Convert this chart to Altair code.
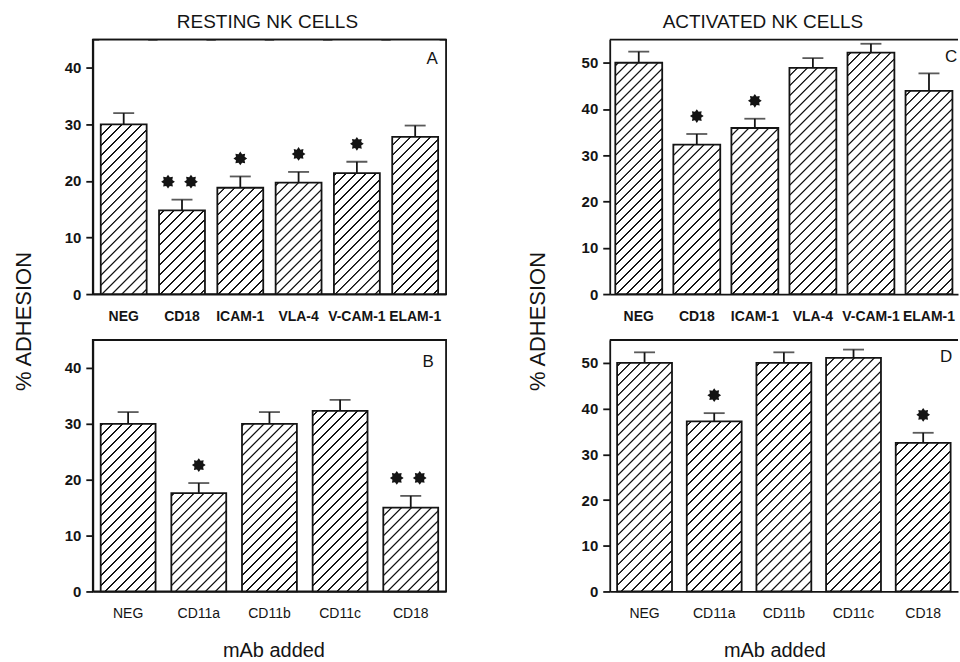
import math
import altair as alt
import pandas as pd

# ---------------- data ----------------
# Panel A : resting NK cells
a_mab = ["NEG", "CD18", "ICAM-1", "VLA-4", "V-CAM-1", "ELAM-1"]
a_mean = [30.0, 14.8, 18.8, 19.7, 21.4, 27.8]
a_sem = [2.0, 1.9, 2.0, 1.9, 2.0, 2.0]
a_stars = [0, 2, 1, 1, 1, 0]

# Panel B : resting NK cells
b_mab = ["NEG", "CD11a", "CD11b", "CD11c", "CD18"]
b_mean = [30.0, 17.6, 30.0, 32.3, 15.0]
b_sem = [2.1, 1.8, 2.1, 2.0, 2.1]
b_stars = [0, 1, 0, 0, 2]

# Panel C : activated NK cells
c_mab = ["NEG", "CD18", "ICAM-1", "VLA-4", "V-CAM-1", "ELAM-1"]
c_mean = [50.0, 32.3, 35.9, 48.9, 52.2, 43.9]
c_sem = [2.4, 2.3, 2.0, 2.1, 1.9, 3.8]
c_stars = [0, 1, 1, 0, 0, 0]

# Panel D : activated NK cells
d_mab = ["NEG", "CD11a", "CD11b", "CD11c", "CD18"]
d_mean = [50.0, 37.2, 50.0, 51.1, 32.5]
d_sem = [2.3, 1.8, 2.3, 1.8, 2.2]
d_stars = [0, 1, 0, 0, 1]

FONT = "Liberation Sans"
INK = "#141414"
LW = 1.8


def hatch_gradient(w, h, period=10.0, line=2.4, edge=0.5):
    """Diagonal '/' hatching as a striped linear gradient over a w x h box."""
    s = w + h
    k = s / (w * w + h * h)
    stops = [alt.GradientStop(offset=0, color="white")]
    pos = 3.0
    while pos + line < s - 1:
        stops += [
            alt.GradientStop(offset=round(pos / s, 6), color="white"),
            alt.GradientStop(offset=round((pos + edge) / s, 6), color=INK),
            alt.GradientStop(offset=round((pos + line - edge) / s, 6), color=INK),
            alt.GradientStop(offset=round((pos + line) / s, 6), color="white"),
        ]
        pos += period
    stops.append(alt.GradientStop(offset=1, color="white"))
    return alt.LinearGradient(gradient="linear", stops=stops,
                              x1=0, y1=0, x2=round(w * k, 6), y2=round(h * k, 6))


STAR = "M" + " L".join(
    f"{(1.0 if i % 2 == 0 else 0.68) * math.cos(i * math.pi / 8 - math.pi / 2):.3f},"
    f"{(1.0 if i % 2 == 0 else 0.68) * math.sin(i * math.pi / 8 - math.pi / 2):.3f}"
    for i in range(16)) + " Z"


def panel(cats, mean, sem, stars, *, width, height, barw, pad_outer, ymax,
          yticks, letter, letter_xy, label_bold, title=None, title_dx=0,
          ytitle_xy=None, xtitle_xy=None, boxed=True):
    df = pd.DataFrame({"mab": cats, "mean": mean, "sem": sem, "stars": stars})

    xaxis = alt.Axis(
        labelAngle=0, ticks=False, domain=True, domainColor=INK, domainWidth=LW,
        labelFont=FONT, labelFontSize=14,
        labelFontWeight="bold" if label_bold else "normal",
        labelColor=INK, labelPadding=15, labelOverlap=False,
        title="mAb added" if xtitle_xy else None,
        titleFont=FONT, titleFontSize=20, titleFontWeight="normal",
        titleColor=INK,
        **({"titleX": xtitle_xy[0], "titleY": xtitle_xy[1],
            "titleAlign": "center", "titleBaseline": "middle"} if xtitle_xy else {}),
    )
    yaxis = alt.Axis(
        values=yticks, grid=False, domainColor=INK, domainWidth=LW,
        tickColor=INK, tickWidth=LW, tickSize=7,
        labelFont=FONT, labelFontSize=15, labelFontWeight="bold",
        labelColor=INK, labelPadding=5,
        title="% ADHESION" if ytitle_xy else None,
        titleFont=FONT, titleFontSize=22, titleFontWeight="normal",
        titleColor=INK,
        **({"titleX": ytitle_xy[0], "titleY": ytitle_xy[1], "titleAngle": 270,
            "titleAlign": "center", "titleBaseline": "middle"} if ytitle_xy else {}),
    )
    xscale = alt.Scale(paddingInner=0, paddingOuter=pad_outer)
    yscale = alt.Scale(domain=[0, ymax], nice=False, zero=True)

    base = alt.Chart(df).encode(
        x=alt.X("mab:N", sort=cats, scale=xscale, axis=xaxis)
    ).transform_calculate(hi="datum.mean + datum.sem")

    y_mean = alt.Y("mean:Q", scale=yscale, axis=yaxis)
    y_hi = alt.Y("hi:Q", scale=yscale, axis=yaxis)

    hatch = base.mark_bar(width=barw, fill=hatch_gradient(barw, height - 2),
                          strokeWidth=0).encode(y=alt.value(2), y2=alt.value(height))
    mask = base.mark_bar(width=barw + 3, fill="white", strokeWidth=0).encode(
        y=y_mean, y2=alt.datum(ymax))
    outline = base.mark_bar(width=barw, fill="transparent",
                            stroke=INK, strokeWidth=LW).encode(y=y_mean)
    err = base.mark_rule(color=INK, strokeWidth=LW).encode(y=y_mean, y2="hi:Q")
    cap = base.mark_tick(orient="horizontal", size=21, thickness=LW,
                         color=INK).encode(y=y_hi)
    star1 = base.transform_filter("datum.stars == 1").mark_point(
        shape=STAR, filled=True, size=190, color=INK, opacity=1,
        yOffset=-18).encode(y=y_hi)
    star2a = base.transform_filter("datum.stars == 2").mark_point(
        shape=STAR, filled=True, size=190, color=INK, opacity=1,
        yOffset=-18, xOffset=-14).encode(y=y_hi)
    star2b = base.transform_filter("datum.stars == 2").mark_point(
        shape=STAR, filled=True, size=190, color=INK, opacity=1,
        yOffset=-18, xOffset=9).encode(y=y_hi)
    lab = alt.Chart(pd.DataFrame({"t": [letter]})).mark_text(
        font=FONT, fontSize=17, color=INK, align="center", baseline="middle"
    ).encode(x=alt.value(letter_xy[0]), y=alt.value(letter_xy[1]), text="t:N")
    top = alt.Chart(pd.DataFrame({"t": [0]})).mark_rule(
        color=INK, strokeWidth=LW).encode(
        x=alt.value(0), x2=alt.value(width), y=alt.value(0))

    layers = [hatch, mask, top, outline, err, cap, star1, star2a, star2b, lab]

    props = dict(width=width, height=height,
                 view=alt.ViewBackground(stroke=INK if boxed else "transparent",
                                         strokeWidth=LW))
    if title:
        props["title"] = alt.TitleParams(
            text=title, font=FONT, fontSize=19, fontWeight="normal", color=INK,
            anchor="middle", frame="group", baseline="bottom", offset=-12,
            dx=title_dx)
    return alt.layer(*layers).properties(**props)


pa = panel(a_mab, a_mean, a_sem, a_stars, width=354, height=255, barw=46,
           pad_outer=0.03, ymax=45, yticks=[0, 10, 20, 30, 40], letter="A",
           letter_xy=(340, 19), label_bold=True, title="RESTING NK CELLS",
           title_dx=-2, ytitle_xy=(-69, 282))
pb = panel(b_mab, b_mean, b_sem, b_stars, width=354, height=252, barw=55,
           pad_outer=0.0, ymax=45, yticks=[0, 10, 20, 30, 40], letter="B",
           letter_xy=(336, 22), label_bold=False, xtitle_xy=(181, 59))
pc = panel(c_mab, c_mean, c_sem, c_stars, width=349, height=255, barw=47,
           pad_outer=0.0, ymax=55, yticks=[0, 10, 20, 30, 40, 50], letter="C",
           letter_xy=(342, 17), label_bold=True, title="ACTIVATED NK CELLS",
           title_dx=-21, ytitle_xy=(-72, 282), boxed=False)
pd_ = panel(d_mab, d_mean, d_sem, d_stars, width=349, height=252, barw=55,
            pad_outer=0.0, ymax=55, yticks=[0, 10, 20, 30, 40, 50], letter="D",
            letter_xy=(337, 17), label_bold=False, xtitle_xy=(165, 59), boxed=False)

chart = alt.concat(pa, pc, pb, pd_, columns=2,
                   spacing={"row": 46, "column": 164}, bounds="flush").properties(
    padding={"left": 12, "top": 11, "right": 0, "bottom": 0},
    background="white",
).configure_view(stroke=None)

chart.save("out.html", embed_options={"renderer": "svg", "actions": False})
